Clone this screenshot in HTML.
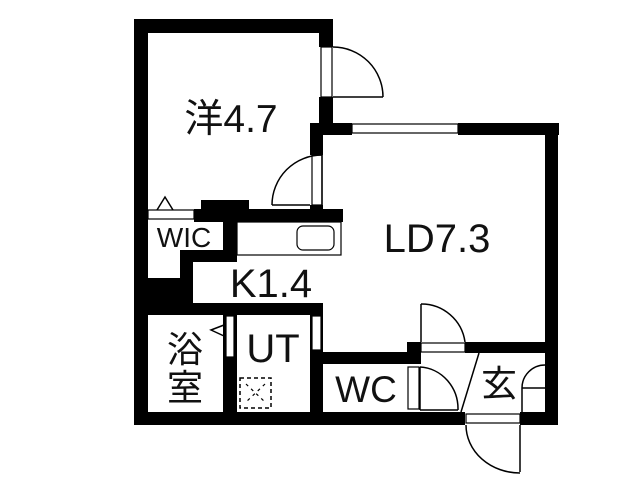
<!DOCTYPE html>
<html><head><meta charset="utf-8"><style>
html,body{margin:0;padding:0;background:#fff;width:640px;height:480px;overflow:hidden}
svg{display:block}
text{font-family:"Liberation Sans","Noto Sans CJK JP",sans-serif;fill:#111}
</style></head><body>
<svg width="640" height="480" viewBox="0 0 640 480" xmlns="http://www.w3.org/2000/svg">
<g fill="#000">
<rect x="134" y="19" width="199" height="14"/>
<rect x="134" y="19" width="14" height="406"/>
<rect x="319" y="19" width="14" height="28"/>
<rect x="319" y="97" width="14" height="28"/>
<rect x="310" y="123" width="13" height="32"/>
<rect x="310" y="205" width="13" height="8"/>
<rect x="310" y="123" width="42" height="12"/>
<rect x="458" y="123" width="101" height="12"/>
<rect x="545" y="123" width="13" height="302"/>
<rect x="194" y="209" width="149" height="13"/>
<rect x="201" y="200" width="48" height="10"/>
<rect x="223" y="209" width="14" height="53"/>
<rect x="180" y="250" width="57" height="12"/>
<rect x="180" y="250" width="13" height="30"/>
<rect x="134" y="278" width="59" height="37"/>
<rect x="134" y="303" width="189" height="12"/>
<rect x="223" y="315" width="14" height="97"/>
<rect x="310" y="303" width="13" height="109"/>
<rect x="310" y="352" width="110" height="12"/>
<rect x="407" y="342" width="14" height="22"/>
<rect x="465" y="342" width="80" height="11"/>
<rect x="134" y="412" width="331" height="13"/>
<rect x="520" y="412" width="38" height="13"/>
</g>
<g fill="#fff" stroke="#000" stroke-width="1.2">
<rect x="321" y="47" width="11" height="50"/>
<rect x="312" y="155" width="10" height="50"/>
<rect x="352" y="124" width="106" height="9"/>
<rect x="148" y="210" width="46" height="9"/>
<rect x="226" y="316" width="8" height="41"/>
<rect x="312" y="316" width="9" height="34"/>
<rect x="408" y="367" width="11" height="42"/>
<rect x="421" y="343" width="44" height="9"/>
<rect x="466" y="414" width="54" height="9"/>
<rect x="237" y="222" width="104" height="33"/>
<rect x="297" y="226" width="37" height="24" rx="6"/>
</g>
<g fill="none" stroke="#000" stroke-width="1.5">
<path d="M333 47 A50 50 0 0 1 383 97"/>
<line x1="333" y1="97" x2="383" y2="97"/>
<line x1="322" y1="155" x2="322" y2="205"/>
<path d="M322 155 A50 50 0 0 0 272 205"/>
<line x1="272" y1="205" x2="310" y2="205"/>
<path d="M157 210 L165 197 L173 210"/>
<path d="M224 325 L211 330 L224 336"/>
<line x1="421" y1="304" x2="421" y2="342"/>
<path d="M421 304 A44 44 0 0 1 465 342"/>
<line x1="420" y1="367" x2="420" y2="410"/>
<path d="M420 367 A40 42 0 0 1 458 410"/>
<line x1="420" y1="410" x2="458" y2="410"/>
<line x1="479" y1="353" x2="461" y2="412"/>
<path d="M545 365 A23 23 0 0 0 522 388 L522 412"/>
<line x1="522" y1="388" x2="545" y2="388"/>
<line x1="520" y1="425" x2="520" y2="472"/>
<path d="M466 425 A54 48 0 0 0 520 473"/>
<rect x="240" y="378" width="31" height="30" stroke-dasharray="4 3"/>
<path d="M246 384 L265 402 M265 384 L246 402" stroke-dasharray="3 4" stroke-width="1.2"/>
</g>
<text x="231" y="132" font-size="39" text-anchor="middle">洋4.7</text>
<text x="437" y="252" font-size="40" text-anchor="middle">LD7.3</text>
<text x="271" y="297" font-size="40" text-anchor="middle">K1.4</text>
<text x="184" y="247" font-size="28" text-anchor="middle">WIC</text>
<text x="185" y="362" font-size="36" text-anchor="middle">浴</text>
<text x="185" y="400" font-size="36" text-anchor="middle">室</text>
<text x="273" y="362" font-size="40" text-anchor="middle">UT</text>
<text x="366" y="402" font-size="37" text-anchor="middle">WC</text>
<text x="499" y="396" font-size="36" text-anchor="middle">玄</text>
</svg>
</body></html>
